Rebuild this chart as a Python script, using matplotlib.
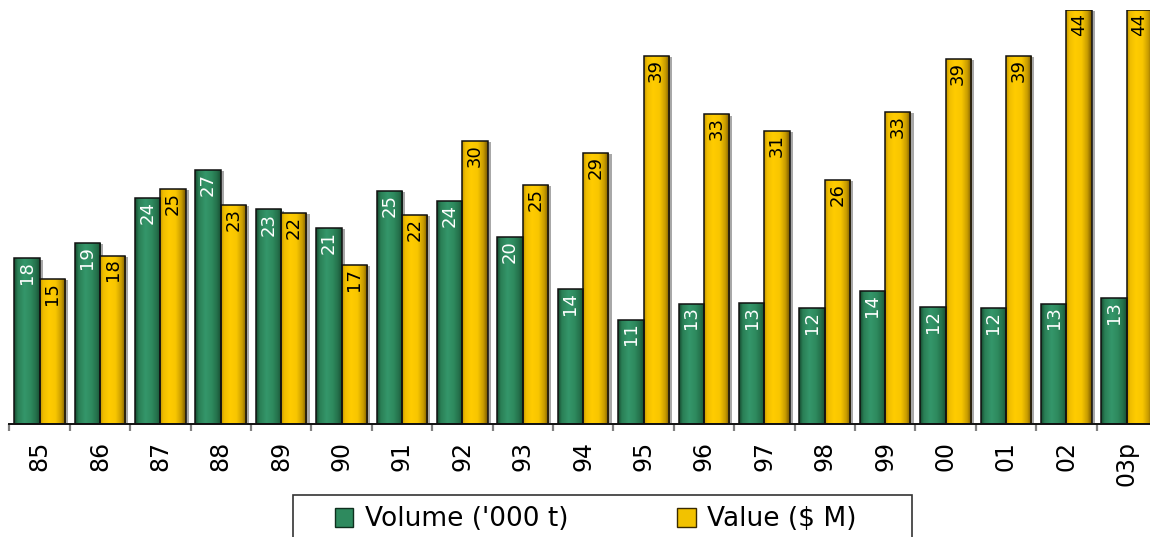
import numpy as np
import matplotlib
matplotlib.use("Agg")
import matplotlib.pyplot as plt
from matplotlib.colors import LinearSegmentedColormap
from matplotlib.patches import Patch, Rectangle
import matplotlib.patheffects as pe

# Annual figures, 1985 to 2003 (provisional)
years = ["85", "86", "87", "88", "89", "90", "91", "92", "93", "94",
         "95", "96", "97", "98", "99", "00", "01", "02", "03p"]
volume = [17.6, 19.2, 24.0, 27.0, 22.8, 20.8, 24.8, 23.7, 19.9, 14.3,
          11.1, 12.8, 12.9, 12.3, 14.1, 12.4, 12.3, 12.8, 13.4]
value = [15.4, 17.9, 25.0, 23.3, 22.4, 16.9, 22.2, 30.1, 25.4, 28.8,
         39.1, 32.9, 31.1, 25.9, 33.2, 38.8, 39.1, 44.0, 44.0]
series_names = ["Volume ('000 t)", "Value ($ M)"]

W, H = 1150, 537
fig = plt.figure(figsize=(W / 100, H / 100), dpi=100)
fig.patch.set_facecolor("white")

ax_left = 9.3 / W
ax_w = 19 * 60.4 / W
ax_bottom = 1 - 424 / H
ax_h = 414 / H
ax = fig.add_axes([ax_left, ax_bottom, ax_w, ax_h])
ax.set_xlim(-0.5, len(years) - 0.5)
ax.set_ylim(0, 44)

green_cmap = LinearSegmentedColormap.from_list("green_bar", [
    (0.0, "#154a2f"), (0.14, "#2a7f55"), (0.4, "#34966a"),
    (0.65, "#2e8a5e"), (0.86, "#246f4a"), (1.0, "#184f34")])
yellow_cmap = LinearSegmentedColormap.from_list("yellow_bar", [
    (0.0, "#c49600"), (0.12, "#f0be00"), (0.35, "#ffcc00"),
    (0.6, "#f8c600"), (0.83, "#c89c00"), (1.0, "#765600")])

grad = np.linspace(0, 1, 64).reshape(1, -1)
x = np.arange(len(years))
bw = 0.42


def shaded_bars(xpos, heights, cmap, label_color):
    bars = ax.bar(xpos, heights, width=bw, facecolor="#999999",
                  edgecolor="none", zorder=2,
                  path_effects=[pe.SimplePatchShadow(offset=(2.2, -0.8),
                                                     shadow_rgbFace="#a8a8a8",
                                                     alpha=1.0),
                                pe.Normal()])
    for rect, h in zip(bars, heights):
        x0 = rect.get_x()
        x1 = x0 + rect.get_width()
        im = ax.imshow(grad, cmap=cmap, extent=(x0, x1, 0, h),
                       aspect="auto", interpolation="bilinear", zorder=3)
        im.set_clip_path(rect)
        ax.add_patch(Rectangle((x0, 0), rect.get_width(), h,
                               facecolor="none", edgecolor="#111111",
                               linewidth=1.1, zorder=4))
        ax.annotate(f"{h:.0f}", xy=(rect.get_x() + rect.get_width() / 2, h),
                    xytext=(0, -2.2), textcoords="offset points",
                    rotation=90, ha="center", va="top",
                    fontsize=13, color=label_color, zorder=5)
    return bars


shaded_bars(x - bw / 2, volume, green_cmap, "white")
shaded_bars(x + bw / 2, value, yellow_cmap, "black")

# Axes styling: only the baseline with separators between years
for side in ("left", "top", "right"):
    ax.spines[side].set_visible(False)
ax.spines["bottom"].set_color("#111111")
ax.spines["bottom"].set_linewidth(1.4)
ax.spines["bottom"].set_zorder(6)
ax.set_yticks([])
ax.set_xticks(x)
ax.set_xticklabels(years, rotation=90, fontsize=17)
ax.tick_params(axis="x", which="major", length=0, pad=12)
ax.set_xticks(np.arange(-0.5, len(years), 1.0), minor=True)
ax.tick_params(axis="x", which="minor", length=5, width=1.6, color="#808080")

# Legend box along the bottom edge
fig.add_artist(Rectangle((293 / W, 1 - 545 / H), (912 - 293) / W, 50 / H,
                         transform=fig.transFigure, facecolor="white",
                         edgecolor="#333333", linewidth=1.2))
handles = [Patch(facecolor="#2e8a5e", edgecolor="#0f2f1e", linewidth=1.0),
           Patch(facecolor="#f2c200", edgecolor="#3a2a00", linewidth=1.0)]
fig.legend(handles, series_names, loc="center left",
           bbox_to_anchor=(335 / W, 1 - 519.5 / H), ncol=2, frameon=False,
           fontsize=19, handlelength=0.7, handleheight=0.7,
           handletextpad=0.45, columnspacing=4.1, borderpad=0,
           borderaxespad=0)

fig.savefig("out.png", dpi=100, facecolor="white")
